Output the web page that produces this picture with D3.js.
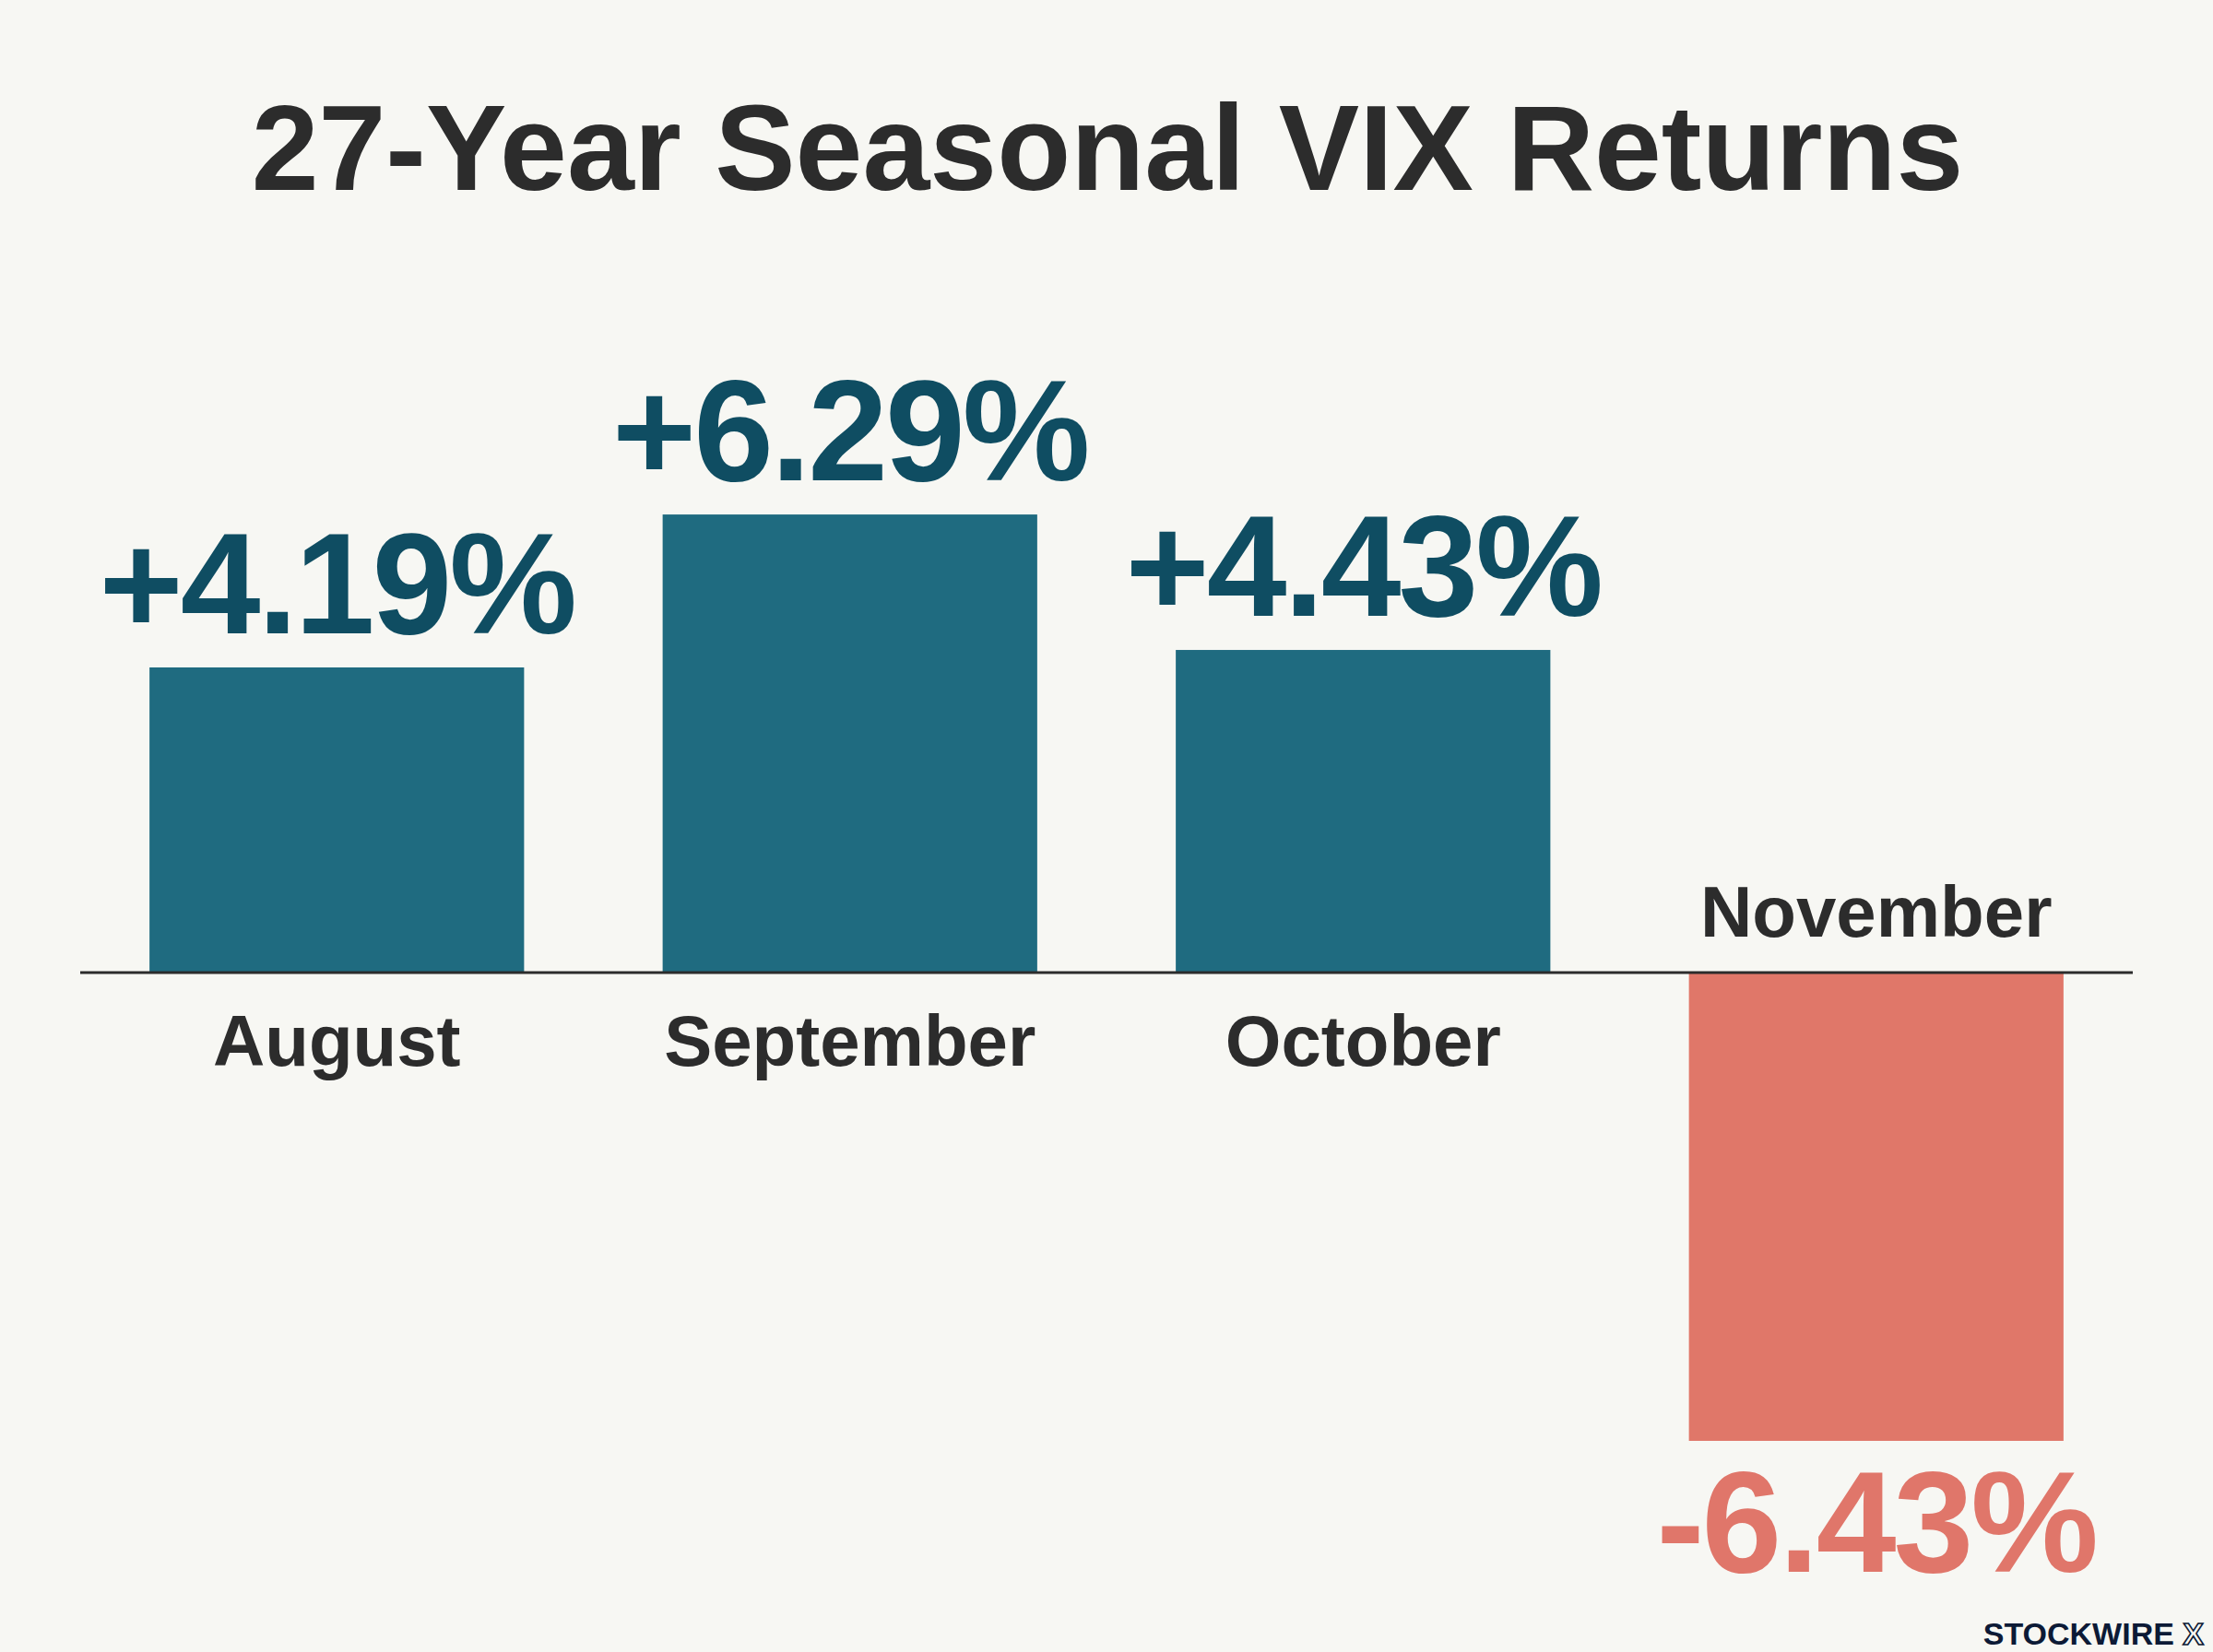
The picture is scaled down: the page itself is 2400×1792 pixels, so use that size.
<!DOCTYPE html>
<html>
<head>
<meta charset="utf-8">
<script src="https://d3js.org/d3.v7.min.js"></script>
<style>
  html, body { margin: 0; padding: 0; background: #f7f7f3; }
  svg { display: block; }
</style>
</head>
<body>
<div id="chart"></div>
<script>
(() => {
    // Data
    const months = ["August", "September", "October", "November"];
    const returns = [4.19, 6.29, 4.43, -6.43];
    const valueLabels = ["+4.19%", "+6.29%", "+4.43%", "-6.43%"];
    const title = "27-Year Seasonal VIX Returns";

    // Style configuration
    const styles = {
        background: "#f7f7f3",
        font: "'Liberation Sans', Arial, Helvetica, sans-serif",
        posBar: "#1f6b80",
        negBar: "#e07769",
        posText: "#0f4d62",
        negText: "#e0766a",
        ink: "#2c2c2c",
        brand: "#0c1a36"
    };

    const width = 2400;
    const height = 1792;
    const zeroY = 1055;
    const pxPerPct = 79;

    const svg = d3.select("#chart").append("svg")
        .attr("width", width)
        .attr("height", height);

    svg.append("rect")
        .attr("width", width)
        .attr("height", height)
        .attr("fill", styles.background);

    const x = d3.scaleBand()
        .domain(months)
        .range([87, 2313])
        .paddingInner(0.27)
        .paddingOuter(0.135);

    const y = d3.scaleLinear()
        .domain([-7, 7])
        .range([zeroY + 7 * pxPerPct, zeroY - 7 * pxPerPct]);

    const data = months.map((m, i) => ({ month: m, value: returns[i], label: valueLabels[i] }));

    // Title
    svg.append("text")
        .attr("x", 1201)
        .attr("y", 206)
        .attr("text-anchor", "middle")
        .style("font-family", styles.font)
        .style("font-weight", 700)
        .style("font-size", "131px")
        .attr("fill", styles.ink)
        .text(title);

    // Bars
    svg.selectAll(".bar")
        .data(data)
        .enter().append("rect")
        .attr("class", "bar")
        .attr("x", d => x(d.month))
        .attr("y", d => y(Math.max(0, d.value)))
        .attr("width", x.bandwidth())
        .attr("height", d => Math.abs(y(d.value) - y(0)))
        .attr("fill", d => d.value >= 0 ? styles.posBar : styles.negBar);

    // Zero line
    svg.append("line")
        .attr("x1", x.range()[0])
        .attr("x2", x.range()[1])
        .attr("y1", y(0))
        .attr("y2", y(0))
        .attr("stroke", styles.ink)
        .attr("stroke-width", 3);

    // Value labels
    svg.selectAll(".value")
        .data(data)
        .enter().append("text")
        .attr("class", "value")
        .attr("x", d => x(d.month) + x.bandwidth() / 2)
        .attr("y", d => d.value >= 0 ? y(d.value) - 37 : y(d.value) + 142)
        .attr("text-anchor", "middle")
        .style("font-family", styles.font)
        .style("font-weight", 700)
        .style("font-size", "156px")
        .style("letter-spacing", "-3px")
        .attr("fill", d => d.value >= 0 ? styles.posText : styles.negText)
        .text(d => d.label);

    // Month labels
    svg.selectAll(".month")
        .data(data)
        .enter().append("text")
        .attr("class", "month")
        .attr("x", d => x(d.month) + x.bandwidth() / 2)
        .attr("y", d => d.value >= 0 ? y(0) + 101 : y(0) - 39)
        .attr("text-anchor", "middle")
        .style("font-family", styles.font)
        .style("font-weight", 700)
        .style("font-size", "78px")
        .attr("fill", styles.ink)
        .text(d => d.month);

    // Brand mark
    const brand = svg.append("text")
        .attr("x", 2390)
        .attr("y", 1784)
        .attr("text-anchor", "end")
        .style("font-family", styles.font)
        .style("font-weight", 700)
        .style("font-size", "34px")
        .attr("fill", styles.brand);
    brand.append("tspan").text("STOCKWIRE ");
    brand.append("tspan")
        .attr("fill", styles.background)
        .attr("stroke", styles.brand)
        .attr("stroke-width", 1.6)
        .text("X");
})();
</script>
</body>
</html>
